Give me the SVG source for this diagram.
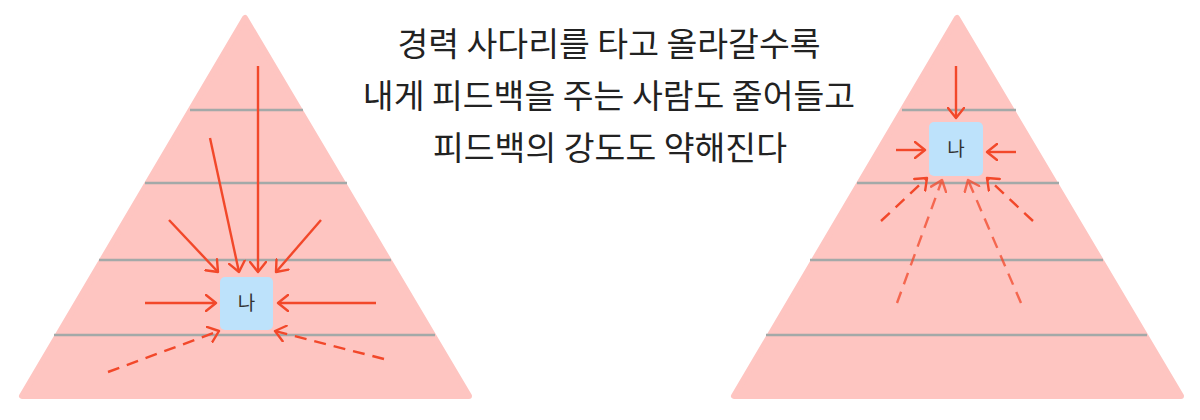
<svg xmlns="http://www.w3.org/2000/svg" width="1200" height="420" viewBox="0 0 1200 420">
<style>
.tri{fill:#fec5c1;stroke:#fec5c1;stroke-width:6;stroke-linejoin:round}
.lvl{stroke:#a3a9a8;stroke-width:2.5}
.box{fill:#bde2fb}
.lbl{font-family:"Noto Sans CJK KR","Noto Sans",sans-serif;font-size:19px;fill:#333;text-anchor:middle}
.title{font-family:"Noto Sans CJK KR","Noto Sans",sans-serif;font-size:33.5px;fill:#222;text-anchor:middle}
.arr{stroke:#f2482a;stroke-width:2.4;fill:none;marker-end:url(#ah)}
.dash{stroke-dasharray:12 8}
.faint{opacity:0.75}
</style>
<defs>
<marker id="ah" markerUnits="userSpaceOnUse" markerWidth="14" markerHeight="18" refX="11" refY="9" orient="auto">
<path d="M1,1 L11,9 L1,17" fill="none" stroke="#f2482a" stroke-width="2.4" stroke-linecap="round" stroke-linejoin="round"/>
</marker>
</defs>
<rect width="1200" height="420" fill="#ffffff"/>
<g id="title">
<text class="title" x="609" y="56">경력 사다리를 타고 올라갈수록</text>
<text class="title" x="609" y="108">내게 피드백을 주는 사람도 줄어들고</text>
<text class="title" x="610" y="160">피드백의 강도도 약해진다</text>
</g>
<g id="pyramid-left">
<polygon class="tri" points="245,18 22,396 469,396"/>
<line class="lvl" x1="190" y1="110" x2="303" y2="110"/>
<line class="lvl" x1="145" y1="183" x2="347" y2="183"/>
<line class="lvl" x1="99" y1="260" x2="391" y2="260"/>
<line class="lvl" x1="54" y1="335" x2="435" y2="335"/>
</g>
<g id="pyramid-right">
<polygon class="tri" points="957,18 734,396 1181,396"/>
<line class="lvl" x1="902" y1="110" x2="1016" y2="110"/>
<line class="lvl" x1="857" y1="183" x2="1059" y2="183"/>
<line class="lvl" x1="810" y1="260" x2="1103" y2="260"/>
<line class="lvl" x1="766" y1="335" x2="1147" y2="335"/>
</g>
<g id="node-me-left">
<rect class="box" x="220" y="277" width="53" height="53" rx="5"/>
<text class="lbl" x="246.5" y="310">나</text>
</g>
<g id="node-me-right">
<rect class="box" x="929" y="122" width="54" height="54" rx="5"/>
<text class="lbl" x="956" y="156">나</text>
</g>
<g id="connectors">
<line class="arr" x1="258" y1="66" x2="258" y2="272"/>
<line class="arr" x1="210" y1="138" x2="239" y2="272"/>
<line class="arr" x1="169" y1="220" x2="218" y2="272"/>
<line class="arr" x1="321" y1="220" x2="276" y2="272"/>
<line class="arr" x1="145" y1="303" x2="216" y2="303"/>
<line class="arr" x1="376" y1="303" x2="278" y2="303"/>
<line class="arr dash" x1="108" y1="372" x2="219" y2="331"/>
<line class="arr dash" x1="384" y1="359" x2="275" y2="331"/>
<line class="arr" x1="956" y1="66" x2="956" y2="118"/>
<line class="arr" x1="896" y1="150" x2="925" y2="150"/>
<line class="arr" x1="1016" y1="152" x2="987" y2="152"/>
<line class="arr dash" x1="881" y1="221" x2="927" y2="178"/>
<line class="arr dash faint" x1="897" y1="303" x2="942" y2="180"/>
<line class="arr dash faint" x1="1021" y1="303" x2="968" y2="180"/>
<line class="arr dash" x1="1033" y1="221" x2="987" y2="178"/>
</g>
</svg>
